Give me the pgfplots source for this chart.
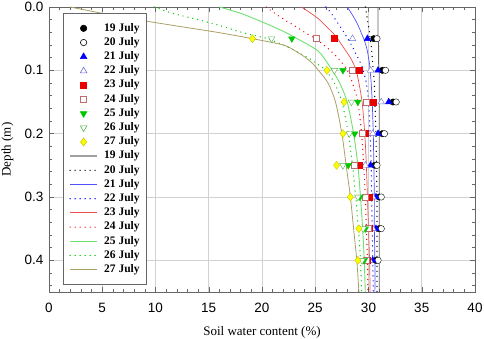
\documentclass[border=0pt]{standalone}
\usepackage{pgfplots}
\pgfplotsset{compat=1.18}
\usepackage{pgfplotstable}
\usepackage{fontspec}
\setmainfont{Liberation Serif}
\newfontfamily\arialfont{Liberation Sans}

% measured soil water content (%) at each depth (m)
\pgfplotstableread{
d     s19  s20  s21  s22  s23  s24  s25  s26  s27
0.05  30.5 30.8 29.9 28.5 26.8 25.1 22.8 20.9 19.1
0.10  31.3 31.6 30.9 30.2 29.1 28.5 27.6 26.8 26.1
0.15  32.3 32.6 31.9 31.2 30.4 29.8 29.0 28.4 27.7
0.20  31.3 31.5 30.9 30.4 29.7 29.4 28.7 28.2 27.6
0.25  30.6 30.8 30.2 29.7 29.1 28.7 28.1 27.6 27.0
0.30  31.0 31.2 30.7 30.4 30.1 29.7 29.2 29.0 28.3
0.35  31.0 31.2 30.7 30.4 30.1 30.0 29.7 29.5 29.1
0.40  30.7 30.9 30.4 30.1 29.9 29.8 29.6 29.4 29.0
}\measured

% simulated profiles
\pgfplotstableread{
d     c19   c20   c21   c22   c23   c24   c25   c26   c27
0.00  30.9  29.7  28.0  26.0  23.7  20.4  16.0  9.9   2.0
0.01  30.9  29.8  28.4  26.5  24.6  21.2  18.0  11.6  5.0
0.02  30.9  29.9  28.75 26.9  25.4  22.1  19.5  14.0  8.3
0.03  30.9  30.0  29.05 27.3  26.0  23.1  20.9  16.2  12.0
0.04  30.9  30.1  29.3  27.7  26.6  24.0  22.2  18.1  15.8
0.05  30.9  30.15 29.55 28.05 27.1  25.0  23.3  20.5  19.1
0.06  30.95 30.25 29.75 28.4  27.5  25.8  24.4  22.0  22.0
0.07  30.95 30.3  29.9  28.7  27.9  26.5  25.3  23.2  23.2
0.08  30.95 30.35 30.0  29.0  28.3  27.1  25.8  24.3  24.1
0.09  30.95 30.4  30.1  29.3  28.6  27.6  26.2  25.2  24.8
0.10  31.0  30.45 30.15 29.5  28.85 28.0  26.6  26.0  25.3
0.12  31.0  30.55 30.25 29.8  29.1  28.5  27.3  26.8  26.2
0.15  31.0  30.6  30.35 30.0  29.4  29.0  28.0  27.5  26.9
0.20  31.0  30.7  30.45 30.15 29.65 29.35 28.6  28.1  27.5
0.25  31.0  30.75 30.5  30.25 29.8  29.55 29.0  28.5  27.9
0.30  31.0  30.8  30.55 30.3  29.9  29.7  29.25 28.8  28.3
0.35  31.0  30.8  30.55 30.35 30.0  29.8  29.45 29.05 28.6
0.40  31.0  30.8  30.6  30.4  30.1  29.9  29.6  29.25 28.9
0.45  31.0  30.8  30.6  30.45 30.15 29.95 29.7  29.35 29.1
}\simulated

\definecolor{cBlue}{RGB}{0,0,255}
\definecolor{cBlueLine}{RGB}{80,80,255}
\definecolor{cLav}{RGB}{110,110,210}
\definecolor{cRed}{RGB}{235,0,0}
\definecolor{cRedLine}{RGB}{235,80,80}
\definecolor{cRose}{RGB}{190,110,110}
\definecolor{cGreen}{RGB}{0,200,0}
\definecolor{cGreenLine}{RGB}{110,225,110}
\definecolor{cGreenOpen}{RGB}{80,180,80}
\definecolor{cYellow}{RGB}{255,255,0}
\definecolor{cYellowEdge}{RGB}{200,200,0}
\definecolor{cOlive}{RGB}{170,160,100}
\definecolor{cGrey}{RGB}{160,160,160}

\tikzset{dots/.style={line width=1.4pt, line cap=round, dash pattern=on 0pt off 5pt}}

\begin{document}
\begin{tikzpicture}
\begin{axis}[
  scale only axis, width=426pt, height=285pt,
  xmin=0, xmax=40, ymin=0, ymax=0.45, y dir=reverse,
  xtick={0,5,...,40}, minor x tick num=4,
  ytick={0,0.1,0.2,0.3,0.4},
  minor ytick={0.02,0.04,0.06,0.08,0.12,0.14,0.16,0.18,0.22,0.24,0.26,0.28,0.32,0.34,0.36,0.38,0.42,0.44},
  yticklabel style={/pgf/number format/fixed, /pgf/number format/fixed zerofill, /pgf/number format/precision=1, xshift=-2pt},
  /pgf/number format/assume math mode=true,
  tick label style={font=\arialfont\fontsize{13.5}{15}\selectfont},
  xticklabel style={yshift=-8pt},
  tick align=inside, major tick length=5pt, minor tick length=3pt,
  every tick/.style={gray!80!black, line width=0.5pt},
  axis line style={gray!80!black, line width=0.6pt},
  grid=major, major grid style={gray!35, line width=0.7pt},
  xlabel={Soil water content (\%)}, ylabel={Depth (m)},
  label style={font=\fontsize{13}{15}\selectfont},
  xlabel style={at={(axis description cs:0.5,0)}, anchor=base, yshift=-43pt},
  ylabel style={yshift=4.5pt},
  legend style={at={(0.033,0.979)}, anchor=north west, draw=gray!80!black, line width=0.6pt,
    font=\fontsize{11.5}{13}\selectfont\bfseries, inner xsep=6pt, inner ysep=9pt,
    row sep=2.1pt,
    nodes={inner sep=0.8pt, text height=8pt, text depth=2.5pt},
    /tikz/every odd column/.append style={column sep=5.5pt}},
  legend cell align=left,
  legend image code/.code={\draw[mark repeat=2, mark phase=2, #1] plot coordinates {(0pt,0pt) (13.5pt,0pt) (27pt,0pt)};},
]
% simulated profiles underneath the measurements
\addplot[cGrey!60!black, line width=0.8pt, forget plot] table[x=c19, y=d] {\simulated};
\addplot[black, dots, forget plot] table[x=c20, y=d] {\simulated};
\addplot[cBlueLine, line width=0.7pt, smooth, forget plot] table[x=c21, y=d] {\simulated};
\addplot[cBlue, dots, smooth, forget plot] table[x=c22, y=d] {\simulated};
\addplot[cRedLine, line width=0.7pt, smooth, forget plot] table[x=c23, y=d] {\simulated};
\addplot[cRed, dots, smooth, forget plot] table[x=c24, y=d] {\simulated};
\addplot[cGreenLine, line width=0.9pt, smooth, forget plot] table[x=c25, y=d] {\simulated};
\addplot[cGreen, dots, smooth, forget plot] table[x=c26, y=d] {\simulated};
\addplot[cOlive, line width=0.8pt, smooth, forget plot] table[x=c27, y=d] {\simulated};

% measurements
\addplot[only marks, mark=*, mark size=3.2pt, draw=black, fill=black] table[x=s19, y=d] {\measured};
\addlegendentry{19 July}
\addplot[only marks, mark=*, mark size=3.2pt, draw=black, mark options={fill=white}] table[x=s20, y=d] {\measured};
\addlegendentry{20 July}
\addplot[only marks, mark=triangle*, mark size=3.8pt, draw=cBlue, fill=cBlue] table[x=s21, y=d] {\measured};
\addlegendentry{21 July}
\addplot[only marks, mark=triangle*, mark size=3.8pt, draw=cLav, mark options={fill=white}] table[x=s22, y=d] {\measured};
\addlegendentry{22 July}
\addplot[only marks, mark=square*, mark size=3pt, draw=cRed, fill=cRed] table[x=s23, y=d] {\measured};
\addlegendentry{23 July}
\addplot[only marks, mark=square*, mark size=3pt, draw=cRose, mark options={fill=white}] table[x=s24, y=d] {\measured};
\addlegendentry{24 July}
\addplot[only marks, mark=triangle*, mark size=3.8pt, draw=cGreen, fill=cGreen, mark options={rotate=180}] table[x=s25, y=d] {\measured};
\addlegendentry{25 July}
\addplot[only marks, mark=triangle*, mark size=3.8pt, draw=cGreenOpen, mark options={rotate=180, fill=white}] table[x=s26, y=d] {\measured};
\addlegendentry{26 July}
\addplot[only marks, mark=diamond*, mark size=4pt, draw=cYellowEdge, fill=cYellow] table[x=s27, y=d] {\measured};
\addlegendentry{27 July}

% legend samples for the simulated profiles
\addlegendimage{cGrey, line width=1.5pt}\addlegendentry{19 July}
\addlegendimage{black, dots}\addlegendentry{20 July}
\addlegendimage{cBlueLine, line width=0.9pt}\addlegendentry{21 July}
\addlegendimage{cBlue, dots}\addlegendentry{22 July}
\addlegendimage{cRedLine, line width=0.9pt}\addlegendentry{23 July}
\addlegendimage{cRed, dots}\addlegendentry{24 July}
\addlegendimage{cGreenLine, line width=1.2pt}\addlegendentry{25 July}
\addlegendimage{cGreen, dots}\addlegendentry{26 July}
\addlegendimage{cOlive, line width=0.9pt}\addlegendentry{27 July}
\end{axis}
\pgfresetboundingbox
\path (-49pt,-47pt) rectangle (435pt,292pt);
\end{tikzpicture}
\end{document}
